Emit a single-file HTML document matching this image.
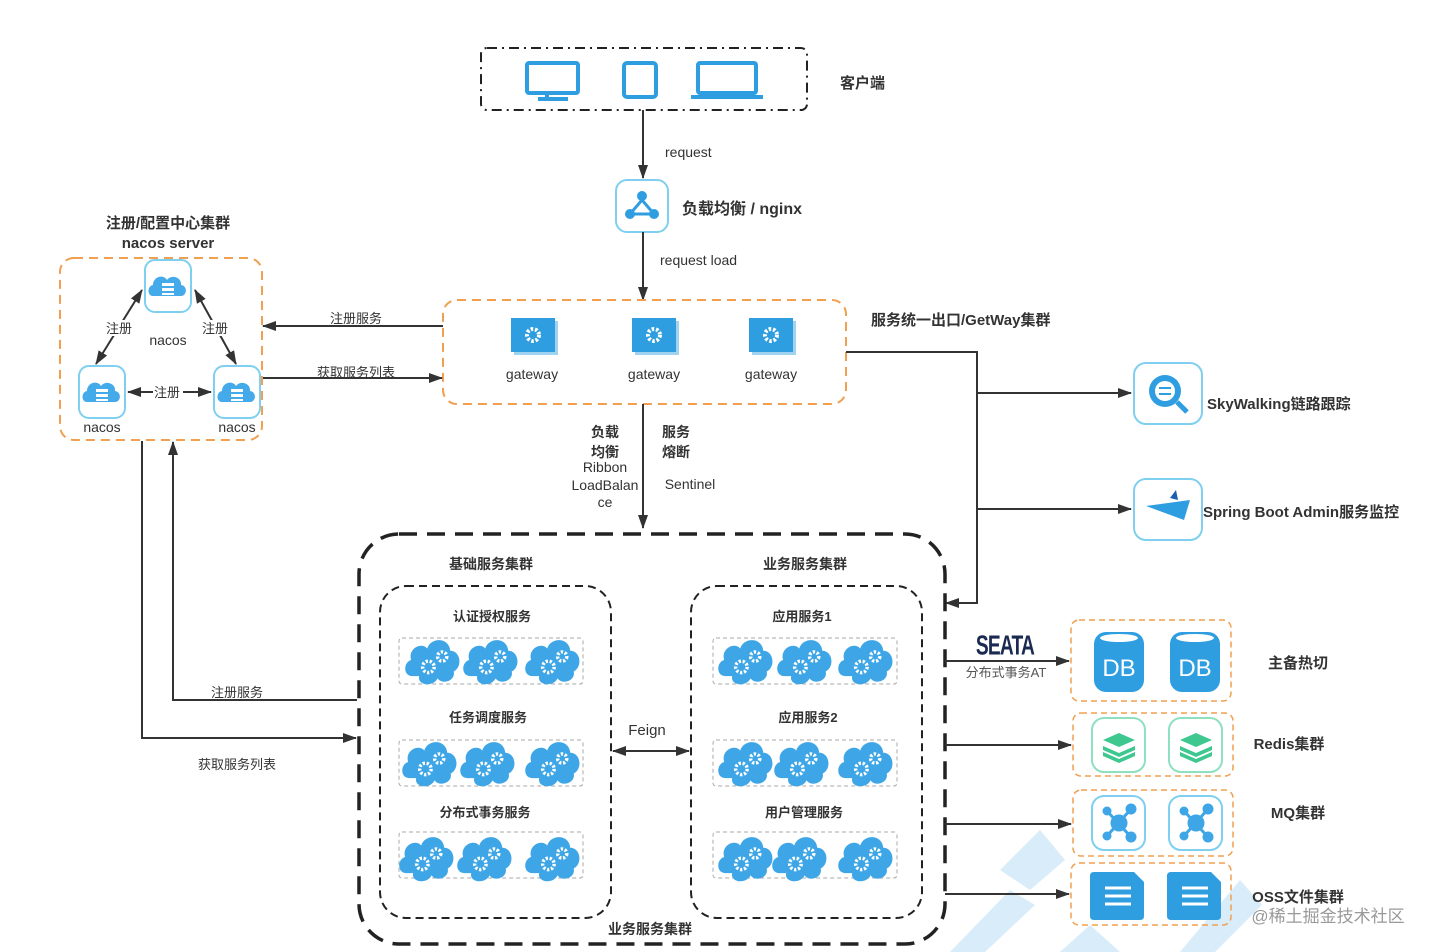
<!DOCTYPE html>
<html><head><meta charset="utf-8"><style>
html,body{margin:0;padding:0;background:#fff}
svg{display:block}
text{font-family:"Liberation Sans","Noto Sans CJK SC",sans-serif;fill:#333}
.b{font-weight:bold}
</style></head><body>
<svg width="1434" height="952" viewBox="0 0 1434 952" xmlns="http://www.w3.org/2000/svg">
<defs>
<marker id="ar" markerWidth="14" markerHeight="10" refX="13" refY="5" orient="auto" markerUnits="userSpaceOnUse"><path d="M0,0 L14,5 L0,10 Z" fill="#333"/></marker>
<marker id="al" markerWidth="14" markerHeight="10" refX="1" refY="5" orient="auto" markerUnits="userSpaceOnUse"><path d="M14,0 L0,5 L14,10 Z" fill="#333"/></marker>
<g id="cloud" transform="scale(1.15)">
<path d="M-18,14 C-26,14 -26,2 -19,0 C-22,-10 -10,-16 -5,-10 C-2,-20 14,-20 15,-8 C24,-8 26,6 18,10 C20,18 8,22 4,16 C0,24 -14,22 -12,14 Z" fill="#3ea6e6"/>
<circle cx="-4" cy="6" r="5" fill="none" stroke="#fff" stroke-width="3" stroke-dasharray="2 1.5"/>
<circle cx="8" cy="-3" r="4" fill="none" stroke="#fff" stroke-width="3" stroke-dasharray="2 1.5"/>
</g>
<g id="nacos">
<rect x="-23" y="-26" width="46" height="52" rx="10" fill="#fff" stroke="#7fcff0" stroke-width="2"/>
<path d="M-15,10 C-21,10 -21,0 -15,-1 C-15,-10 -4,-12 -1,-6 C3,-12 14,-9 13,-1 C20,0 19,10 13,10 Z" fill="#44aaea"/>
<rect x="-6" y="-3" width="12" height="3" fill="#fff"/><rect x="-6" y="2" width="12" height="3" fill="#fff"/><rect x="-6" y="7" width="12" height="2" fill="#fff"/>
</g>
<g id="gw">
<rect x="-19" y="-14" width="44" height="34" fill="#9fd3f0"/>
<rect x="-22" y="-17" width="44" height="34" fill="#2f9ee0"/>
<circle cx="0" cy="0" r="6" fill="none" stroke="#fff" stroke-width="4" stroke-dasharray="2.5 1.8"/>
</g>
</defs>

<!-- watermark -->
<g fill="#d8ecfa">
<path d="M950,952 L1010,890 L1035,905 L985,952 Z"/>
<path d="M1000,870 L1040,830 L1065,860 L1030,890 Z"/>
<path d="M1180,952 L1240,880 L1262,905 L1215,952 Z"/>
<path d="M1060,952 L1090,925 L1120,952 Z"/>
</g>

<!-- client -->
<rect x="481" y="48" width="326" height="62" rx="6" fill="none" stroke="#222" stroke-width="2" stroke-dasharray="10 5 2 5"/>
<g fill="none" stroke="#2f9ee0" stroke-width="4">
<rect x="527" y="63" width="51" height="30" rx="2"/><path d="M547,95 v4 M538,99 h30" />
<rect x="624" y="63" width="32" height="34" rx="3"/>
<rect x="698" y="63" width="58" height="30" rx="2"/><path d="M691,97 h72"/>
</g>
<text x="840" y="88" font-size="15" class="b">客户端</text>

<line x1="643" y1="110" x2="643" y2="178" stroke="#333" stroke-width="2" marker-end="url(#ar)"/>
<text x="665" y="157" font-size="14">request</text>
<rect x="616" y="180" width="52" height="52" rx="11" fill="#fff" stroke="#7fcff0" stroke-width="2"/>
<g fill="#2f9ee0"><circle cx="642" cy="196" r="5"/><circle cx="630" cy="214" r="5"/><circle cx="654" cy="214" r="5"/><path d="M642,200 L630,214 M642,200 L654,214 M630,214 H654" stroke="#2f9ee0" stroke-width="3"/></g>
<text x="682" y="214" font-size="16" class="b">负载均衡 / nginx</text>
<line x1="643" y1="232" x2="643" y2="300" stroke="#333" stroke-width="2" marker-end="url(#ar)"/>
<text x="660" y="265" font-size="14">request load</text>

<!-- gateway -->
<rect x="443" y="300" width="403" height="104" rx="14" fill="none" stroke="#f0a050" stroke-width="2" stroke-dasharray="9 6"/>
<use href="#gw" x="533" y="335"/><use href="#gw" x="654" y="335"/><use href="#gw" x="771" y="335"/>
<text x="532" y="379" font-size="14" text-anchor="middle">gateway</text>
<text x="654" y="379" font-size="14" text-anchor="middle">gateway</text>
<text x="771" y="379" font-size="14" text-anchor="middle">gateway</text>
<text x="871" y="325" font-size="15" class="b">服务统一出口/GetWay集群</text>

<!-- nacos -->
<text x="168" y="228" font-size="15" class="b" text-anchor="middle">注册/配置中心集群</text>
<text x="168" y="248" font-size="15" class="b" text-anchor="middle">nacos server</text>
<rect x="60" y="258" width="202" height="182" rx="14" fill="none" stroke="#f0a050" stroke-width="2" stroke-dasharray="9 6"/>
<use href="#nacos" x="168" y="286"/><use href="#nacos" x="102" y="392"/><use href="#nacos" x="237" y="392"/>
<text x="168" y="345" font-size="14" text-anchor="middle">nacos</text>
<text x="102" y="432" font-size="14" text-anchor="middle">nacos</text>
<text x="237" y="432" font-size="14" text-anchor="middle">nacos</text>
<g stroke="#333" stroke-width="2">
<line x1="96" y1="364" x2="142" y2="290" marker-end="url(#ar)" marker-start="url(#al)"/>
<line x1="236" y1="364" x2="195" y2="290" marker-end="url(#ar)" marker-start="url(#al)"/>
<line x1="128" y1="392" x2="211" y2="392" marker-end="url(#ar)" marker-start="url(#al)"/>
</g>
<rect x="104" y="320" width="30" height="16" fill="#fff"/><rect x="200" y="320" width="30" height="16" fill="#fff"/><rect x="153" y="384" width="30" height="16" fill="#fff"/>
<text x="119" y="333" font-size="13" text-anchor="middle">注册</text>
<text x="215" y="333" font-size="13" text-anchor="middle">注册</text>
<text x="167" y="397" font-size="13" text-anchor="middle">注册</text>

<line x1="443" y1="326" x2="263" y2="326" stroke="#333" stroke-width="2" marker-end="url(#ar)"/>
<text x="356" y="323" font-size="13" text-anchor="middle">注册服务</text>
<line x1="263" y1="378" x2="442" y2="378" stroke="#333" stroke-width="2" marker-end="url(#ar)"/>
<text x="356" y="377" font-size="13" text-anchor="middle">获取服务列表</text>

<polyline points="142,441 142,738 356,738" fill="none" stroke="#333" stroke-width="2" marker-end="url(#ar)"/>
<text x="237" y="769" font-size="13" text-anchor="middle">获取服务列表</text>
<polyline points="357,700 173,700 173,442" fill="none" stroke="#333" stroke-width="2" marker-end="url(#ar)"/>
<text x="237" y="697" font-size="13" text-anchor="middle">注册服务</text>

<!-- gateway down -->
<line x1="643" y1="404" x2="643" y2="528" stroke="#333" stroke-width="2" marker-end="url(#ar)"/>
<g font-size="14" text-anchor="middle">
<text x="605" y="437" class="b">负载</text><text x="605" y="457" class="b">均衡</text>
<text x="605" y="472">Ribbon</text><text x="605" y="490">LoadBalan</text><text x="605" y="507">ce</text>
<text x="676" y="437" class="b">服务</text><text x="676" y="457" class="b">熔断</text>
<text x="690" y="489">Sentinel</text>
</g>

<!-- right branch -->
<polyline points="846,352 977,352 977,603 946,603" fill="none" stroke="#333" stroke-width="2" marker-end="url(#ar)"/>
<line x1="977" y1="393" x2="1131" y2="393" stroke="#333" stroke-width="2" marker-end="url(#ar)"/>
<line x1="977" y1="509" x2="1131" y2="509" stroke="#333" stroke-width="2" marker-end="url(#ar)"/>
<rect x="1134" y="363" width="68" height="61" rx="12" fill="#fff" stroke="#7fcff0" stroke-width="2"/>
<circle cx="1165" cy="391" r="16" fill="#2f9ee0"/><circle cx="1165" cy="391" r="10" fill="#fff"/><path d="M1159,388h12M1159,394h12" stroke="#2f9ee0" stroke-width="2"/><path d="M1177,402 l10,10" stroke="#2f9ee0" stroke-width="5"/>
<text x="1207" y="409" font-size="15" class="b">SkyWalking链路跟踪</text>
<rect x="1134" y="479" width="68" height="61" rx="12" fill="#fff" stroke="#7fcff0" stroke-width="2"/>
<path d="M1146,506 L1190,500 L1184,520 Z" fill="#2f9ee0"/><path d="M1170,498 l6,-8 l2,10 z" fill="#1a5fb0"/>
<text x="1203" y="517" font-size="15" class="b">Spring Boot Admin服务监控</text>

<!-- big box -->
<rect x="359" y="534" width="586" height="410" rx="40" fill="none" stroke="#222" stroke-width="3.5" stroke-dasharray="18 10"/>
<rect x="380" y="586" width="231" height="332" rx="26" fill="none" stroke="#222" stroke-width="2" stroke-dasharray="8 5"/>
<rect x="691" y="586" width="231" height="332" rx="26" fill="none" stroke="#222" stroke-width="2" stroke-dasharray="8 5"/>
<g font-size="14" class="b" text-anchor="middle">
<text x="491" y="569">基础服务集群</text><text x="805" y="569">业务服务集群</text>
<text x="650" y="934">业务服务集群</text>
</g>
<g font-size="13" class="b" text-anchor="middle">
<text x="492" y="621">认证授权服务</text><text x="488" y="722">任务调度服务</text><text x="485" y="817">分布式事务服务</text>
<text x="802" y="621">应用服务1</text><text x="808" y="722">应用服务2</text><text x="804" y="817">用户管理服务</text>
</g>
<g fill="none" stroke="#aaa" stroke-width="1" stroke-dasharray="4 3">
<rect x="399" y="638" width="184" height="46" rx="3"/><rect x="399" y="740" width="184" height="46" rx="3"/><rect x="399" y="832" width="184" height="46" rx="3"/>
<rect x="713" y="638" width="184" height="46" rx="3"/><rect x="713" y="740" width="184" height="46" rx="3"/><rect x="713" y="832" width="184" height="46" rx="3"/>
</g>
<g>
<use href="#cloud" x="433" y="660"/><use href="#cloud" x="491" y="660"/><use href="#cloud" x="553" y="660"/>
<use href="#cloud" x="430" y="762"/><use href="#cloud" x="488" y="762"/><use href="#cloud" x="553" y="762"/>
<use href="#cloud" x="427" y="857"/><use href="#cloud" x="485" y="857"/><use href="#cloud" x="553" y="857"/>
<use href="#cloud" x="746" y="660"/><use href="#cloud" x="805" y="660"/><use href="#cloud" x="866" y="660"/>
<use href="#cloud" x="746" y="762"/><use href="#cloud" x="802" y="762"/><use href="#cloud" x="866" y="762"/>
<use href="#cloud" x="746" y="857"/><use href="#cloud" x="800" y="857"/><use href="#cloud" x="866" y="857"/>
</g>
<text x="647" y="735" font-size="15" text-anchor="middle">Feign</text>
<line x1="613" y1="751" x2="689" y2="751" stroke="#333" stroke-width="2" marker-end="url(#ar)" marker-start="url(#al)"/>

<!-- right storage -->
<g stroke="#333" stroke-width="2">
<line x1="945" y1="661" x2="1069" y2="661" marker-end="url(#ar)"/>
<line x1="945" y1="745" x2="1071" y2="745" marker-end="url(#ar)"/>
<line x1="945" y1="824" x2="1071" y2="824" marker-end="url(#ar)"/>
<line x1="945" y1="894" x2="1069" y2="894" marker-end="url(#ar)"/>
</g>
<text x="1005" y="654" font-size="24" class="b" text-anchor="middle" style="fill:#1a2a50;letter-spacing:-1px" transform="translate(1005 0) scale(0.8 1.15) translate(-1005 -85)">SEATA</text>
<text x="1006" y="677" font-size="13" text-anchor="middle" style="fill:#555">分布式事务AT</text>
<g fill="none" stroke="#f0a050" stroke-width="1.5" stroke-dasharray="6 4">
<rect x="1071" y="620" width="160" height="81" rx="8"/><rect x="1073" y="713" width="160" height="63" rx="8"/>
<rect x="1073" y="790" width="160" height="66" rx="8"/><rect x="1071" y="863" width="160" height="62" rx="8"/>
</g>
<g>
<rect x="1094" y="632" width="50" height="60" rx="12" fill="#2f9ee0"/><ellipse cx="1119" cy="638" rx="19" ry="4" fill="#fff"/>
<rect x="1170" y="632" width="50" height="60" rx="12" fill="#2f9ee0"/><ellipse cx="1195" cy="638" rx="19" ry="4" fill="#fff"/>
<text x="1119" y="676" font-size="24" text-anchor="middle" style="fill:#fff">DB</text>
<text x="1195" y="676" font-size="24" text-anchor="middle" style="fill:#fff">DB</text>
</g>
<text x="1298" y="668" font-size="15" class="b" text-anchor="middle">主备热切</text>
<g fill="#fff" stroke="#8ee0c0" stroke-width="2"><rect x="1092" y="718" width="53" height="54" rx="12"/><rect x="1169" y="718" width="53" height="54" rx="12"/></g>
<g fill="#3ec890"><path d="M1103,740 l16,-7 l16,7 l-16,7z"/><path d="M1103,746 l16,7 l16,-7 v4 l-16,7 l-16,-7z"/><path d="M1103,752 l16,7 l16,-7 v4 l-16,7 l-16,-7z"/>
<path d="M1180,740 l16,-7 l16,7 l-16,7z"/><path d="M1180,746 l16,7 l16,-7 v4 l-16,7 l-16,-7z"/><path d="M1180,752 l16,7 l16,-7 v4 l-16,7 l-16,-7z"/></g>
<text x="1289" y="749" font-size="15" class="b" text-anchor="middle">Redis集群</text>
<g fill="#fff" stroke="#7fcff0" stroke-width="2"><rect x="1092" y="796" width="53" height="54" rx="12"/><rect x="1169" y="796" width="53" height="54" rx="12"/></g>
<g fill="#3ea6e6" stroke="#3ea6e6" stroke-width="3">
<path d="M1107,811 L1131,837 M1131,809 L1107,836" /><circle cx="1119" cy="823" r="7"/><circle cx="1107" cy="811" r="3"/><circle cx="1131" cy="809" r="4"/><circle cx="1107" cy="836" r="3"/><circle cx="1131" cy="837" r="4"/>
<path d="M1184,811 L1208,837 M1208,809 L1184,836" /><circle cx="1196" cy="823" r="7"/><circle cx="1184" cy="811" r="3"/><circle cx="1208" cy="809" r="4"/><circle cx="1184" cy="836" r="3"/><circle cx="1208" cy="837" r="4"/>
</g>
<text x="1298" y="818" font-size="15" class="b" text-anchor="middle">MQ集群</text>
<g fill="#2f9ee0"><path d="M1094,872 h40 l10,10 v34 q0,4 -4,4 h-46 q-4,0 -4,-4 v-40 q0,-4 4,-4z"/><path d="M1171,872 h40 l10,10 v34 q0,4 -4,4 h-46 q-4,0 -4,-4 v-40 q0,-4 4,-4z"/></g>
<g stroke="#fff" stroke-width="3"><path d="M1105,888h26M1105,896h26M1105,904h26M1182,888h26M1182,896h26M1182,904h26"/></g>
<text x="1298" y="902" font-size="15" class="b" text-anchor="middle">OSS文件集群</text>
<text x="1328" y="922" font-size="17" text-anchor="middle" style="fill:#999">@稀土掘金技术社区</text>
</svg>
</body></html>
